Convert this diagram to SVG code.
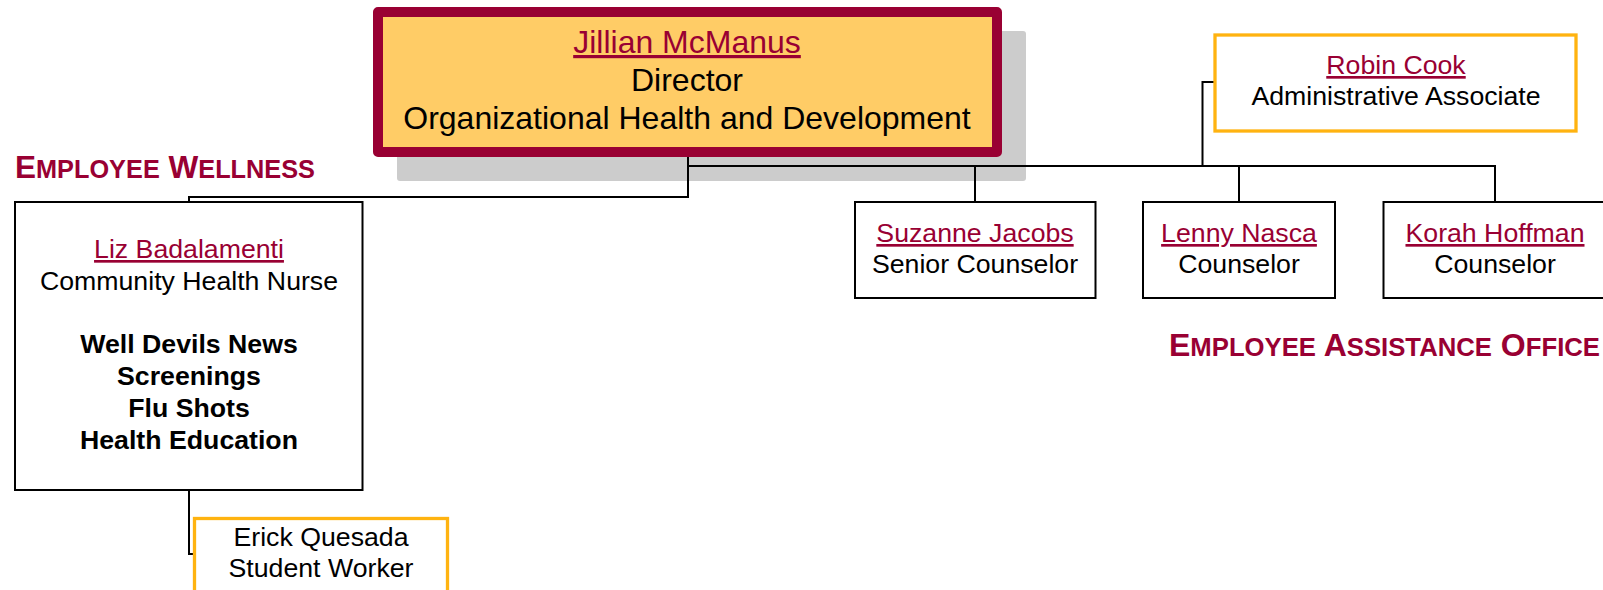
<svg xmlns="http://www.w3.org/2000/svg" width="1603" height="590" viewBox="0 0 1603 590">
<style>
text{font-family:"Liberation Sans",Arial,sans-serif;text-anchor:middle;fill:#000}
.n{fill:#990033;text-decoration:underline}
.t{font-size:26.7px}
.b{font-weight:bold}
.box{fill:#fff;stroke:#000;stroke-width:2}
.obox{fill:#fff;stroke:#FFB310;stroke-width:3.3}
.sec{font-weight:bold;fill:#990033;text-anchor:start}
#connectors path{fill:none;stroke:#000;stroke-width:2}
</style>
<rect width="1603" height="590" fill="#fff"/>
<g id="director">
<rect x="397" y="31" width="629" height="150" rx="3" fill="#CCCCCC"/>
<rect x="378" y="12" width="619" height="140" fill="#FFCC66" stroke="#990033" stroke-width="10" stroke-linejoin="round"/>
<text x="687" y="53" font-size="32" class="n">Jillian McManus</text>
<text x="687" y="91" font-size="32">Director</text>
<text x="687" y="129" font-size="32">Organizational Health and Development</text>
</g>
<g id="connectors">
<path d="M688,157 V197 H189 V202"/>
<path d="M688,166 H1495 V202"/>
<path d="M975,166 V202"/>
<path d="M1239,166 V202"/>
<path d="M1202.5,166 V82 H1215"/>
<path d="M189,490 V554 H194"/>
</g>
<g id="robin">
<rect x="1215" y="35" width="361" height="96" class="obox"/>
<text x="1396" y="74" class="t n">Robin Cook</text>
<text x="1396" y="105" class="t">Administrative Associate</text>
</g>
<g id="suzanne">
<rect x="855" y="202" width="240.5" height="96" class="box"/>
<text x="975" y="242" class="t n">Suzanne Jacobs</text>
<text x="975" y="273" class="t">Senior Counselor</text>
</g>
<g id="lenny">
<rect x="1143" y="202" width="192" height="96" class="box"/>
<text x="1239" y="242" class="t n">Lenny Nasca</text>
<text x="1239" y="273" class="t">Counselor</text>
</g>
<g id="korah">
<rect x="1383.5" y="202" width="224" height="96" class="box"/>
<text x="1495" y="242" class="t n">Korah Hoffman</text>
<text x="1495" y="273" class="t">Counselor</text>
</g>
<g id="liz">
<rect x="15" y="202" width="347.5" height="288" class="box"/>
<text x="189" y="258" class="t n">Liz Badalamenti</text>
<text x="189" y="290" class="t">Community Health Nurse</text>
<text x="189" y="353" class="t b">Well Devils News</text>
<text x="189" y="385" class="t b">Screenings</text>
<text x="189" y="417" class="t b">Flu Shots</text>
<text x="189" y="449" class="t b">Health Education</text>
</g>
<g id="erick">
<rect x="194.5" y="518.5" width="253" height="90" class="obox"/>
<text x="321" y="546" class="t">Erick Quesada</text>
<text x="321" y="577" class="t">Student Worker</text>
</g>
<g id="label-wellness">
<text x="15" y="178" class="sec" font-size="31.5" textLength="300" lengthAdjust="spacingAndGlyphs">E<tspan font-size="25.3">MPLOYEE</tspan> W<tspan font-size="25.3">ELLNESS</tspan></text>
</g>
<g id="label-eao">
<text x="1169" y="356" class="sec" font-size="31.5" textLength="431" lengthAdjust="spacingAndGlyphs">E<tspan font-size="25.3">MPLOYEE</tspan> A<tspan font-size="25.3">SSISTANCE</tspan> O<tspan font-size="25.3">FFICE</tspan></text>
</g>
</svg>
